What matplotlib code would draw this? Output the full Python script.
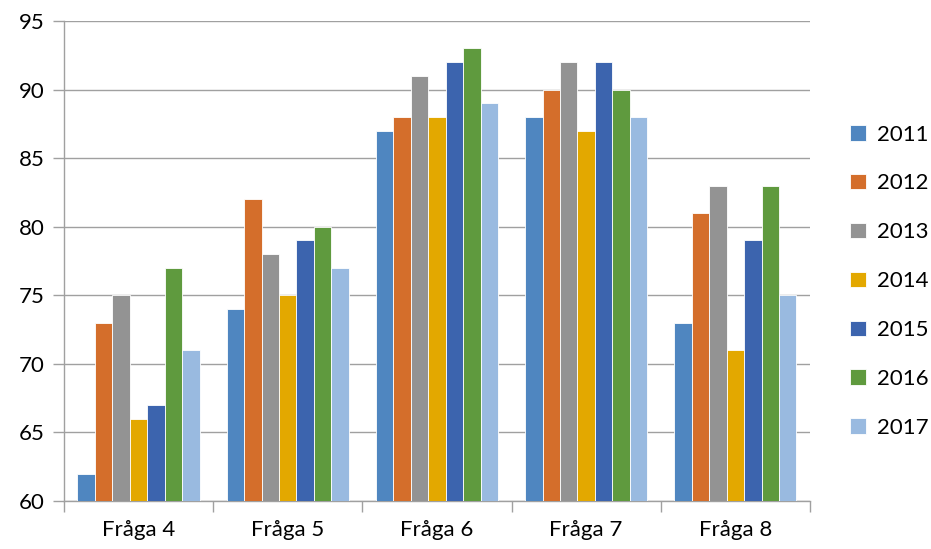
import numpy as np
import matplotlib.pyplot as plt

# Data
categories = ['Fråga 4', 'Fråga 5', 'Fråga 6', 'Fråga 7', 'Fråga 8']
years = ['2011', '2012', '2013', '2014', '2015', '2016', '2017']
v2011 = [62, 74, 87, 88, 73]
v2012 = [73, 82, 88, 90, 81]
v2013 = [75, 78, 91, 92, 83]
v2014 = [66, 75, 88, 87, 71]
v2015 = [67, 79, 92, 92, 79]
v2016 = [77, 80, 93, 90, 83]
v2017 = [71, 77, 89, 88, 75]
series = [v2011, v2012, v2013, v2014, v2015, v2016, v2017]
colors = ['#4F86C0', '#D46E2B', '#939393', '#E3A800', '#3C64AE', '#5F9A3E', '#99BAE0']

plt.rcParams['font.family'] = ['Lato', 'DejaVu Sans']

fig = plt.figure(figsize=(9.31, 5.49), dpi=100)
ax = fig.add_axes([0.0687, 0.0874, 0.8013, 0.8743])

x = np.arange(len(categories))
w = 0.117
n = len(series)
for i, (vals, c, yr) in enumerate(zip(series, colors, years)):
    offs = (i - (n - 1) / 2) * w
    ax.bar(x + offs, np.array(vals) - 60, bottom=60, width=w, color=c,
           edgecolor='white', linewidth=0.6, label=yr, zorder=3)

ax.set_xlim(-0.5, len(categories) - 0.5)
ax.set_ylim(60, 95)
ax.set_yticks(range(60, 96, 5))
ax.set_xticks(x)
ax.set_xticklabels(categories)
ax.set_xticks(np.arange(-0.5, len(categories)), minor=True)
ax.tick_params(axis='x', which='major', length=0, pad=14, labelsize=16)
ax.tick_params(axis='x', which='minor', length=8, color='#A0A0A0', width=1)
ax.tick_params(axis='y', length=8, color='#A0A0A0', width=1, labelsize=16, pad=6)
ax.grid(axis='y', color='#A0A0A0', linewidth=1, zorder=0)
for s in ['top', 'right']:
    ax.spines[s].set_visible(False)
for s in ['left', 'bottom']:
    ax.spines[s].set_color('#A0A0A0')
    ax.spines[s].set_linewidth(1)

ax.legend(loc='center left', bbox_to_anchor=(1.027, 0.458), frameon=False,
          fontsize=16, handlelength=0.7, handleheight=0.7, handletextpad=0.5,
          labelspacing=1.3)

fig.savefig('out.png', dpi=100)
